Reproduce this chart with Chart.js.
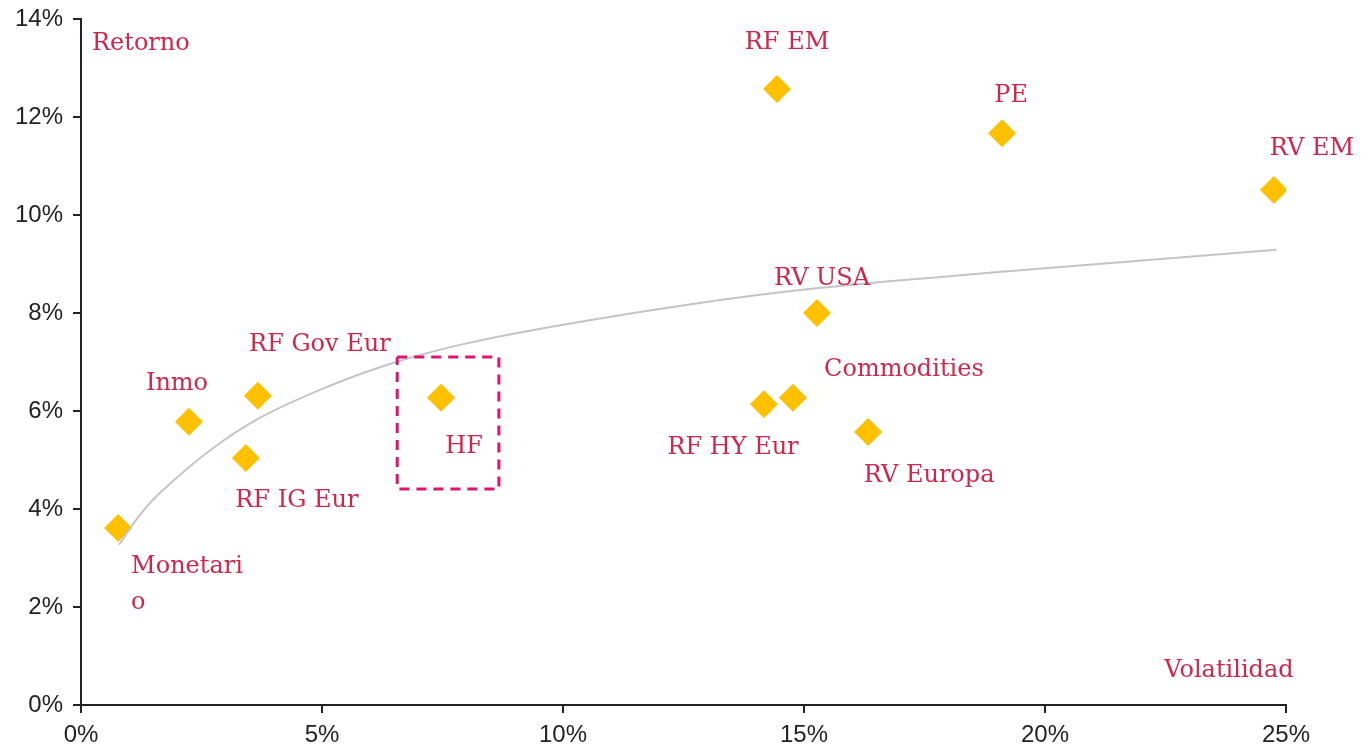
<!DOCTYPE html>
<html lang="es">
<head>
    <meta charset="UTF-8">
    <title>Retorno vs Volatilidad</title>
    <script src="https://cdn.jsdelivr.net/npm/chart.js"></script>
    <style>
        html, body {
            margin: 0;
            padding: 0;
            background: #ffffff;
        }
        .chart-box {
            width: 1363px;
            height: 755px;
        }
    </style>
</head>
<body>
<div class="chart-box">
    <canvas id="riskChart"></canvas>
</div>

<script>
    // Activos: volatilidad (%) y retorno (%)
    const activos = ['Monetario', 'Inmo', 'RF IG Eur', 'RF Gov Eur', 'HF', 'RF HY Eur',
        'Commodities', 'RV USA', 'RV Europa', 'RF EM', 'PE', 'RV EM'];
    const volatilidad = [0.77, 2.24, 3.42, 3.67, 7.47, 14.17, 14.77, 15.27, 16.33, 14.44, 19.11, 24.75];
    const retorno = [3.61, 5.78, 5.04, 6.31, 6.27, 6.14, 6.27, 8.00, 5.57, 12.57, 11.67, 10.51];

    // Frontera
    const fronteraX = [0.79, 1.2, 1.64, 2.68, 3.71, 5.10, 6.47, 8.0, 10.0, 12.8, 15.3, 19.1, 24.8];
    const fronteraY = [3.27, 3.85, 4.33, 5.20, 5.86, 6.49, 6.98, 7.38, 7.76, 8.20, 8.51, 8.84, 9.29];

    // Recuadro HF
    const cajaX = [6.56, 8.67, 8.67, 6.56, 6.56];
    const cajaY = [7.10, 7.10, 4.41, 4.41, 7.10];

    const xTicks = [0, 5, 10, 15, 20, 25];
    const yTicks = [0, 2, 4, 6, 8, 10, 12, 14];

    // posicion de cada etiqueta respecto a su punto (px)
    const offsets = {
        'Monetario': [13, 39, 'left'],
        'Inmo': [-12, -38, 'center'],
        'RF IG Eur': [51, 43, 'center'],
        'RF Gov Eur': [62, -51, 'center'],
        'HF': [23, 49, 'center'],
        'RF HY Eur': [-31, 44, 'center'],
        'Commodities': [111, -28, 'center'],
        'RV USA': [5, -34, 'center'],
        'RV Europa': [61, 44, 'center'],
        'RF EM': [10, -46, 'center'],
        'PE': [9, -37, 'center'],
        'RV EM': [38, -41, 'center']
    };

    const rojo = '#d0264c';
    const serif = '"DejaVu Serif", serif';

    const etiquetas = {
        id: 'etiquetas',
        afterDatasetsDraw(chart) {
            const ctx = chart.ctx;
            const xs = chart.scales.x, ys = chart.scales.y;
            const area = chart.chartArea;
            ctx.save();
            ctx.fillStyle = rojo;
            ctx.font = '24px ' + serif;
            ctx.textBaseline = 'middle';
            activos.forEach((nombre, i) => {
                const px = xs.getPixelForValue(volatilidad[i]);
                const py = ys.getPixelForValue(retorno[i]);
                const o = offsets[nombre];
                ctx.textAlign = o[2];
                if (nombre === 'Monetario') {
                    ctx.fillText('Monetari', px + o[0], py + o[1]);
                    ctx.fillText('o', px + o[0], py + o[1] + 36);
                } else {
                    ctx.fillText(nombre, px + o[0], py + o[1]);
                }
            });
            ctx.textAlign = 'left';
            ctx.fillText('Retorno', area.left + 11, area.top + 25);
            ctx.textAlign = 'center';
            ctx.fillText('Volatilidad', area.right - 57, area.bottom - 34);
            ctx.restore();
        }
    };

    const ctx = document.getElementById('riskChart').getContext('2d');
    new Chart(ctx, {
        type: 'scatter',
        data: {
            datasets: [
                {
                    label: 'Activos',
                    data: volatilidad.map((v, i) => ({x: v, y: retorno[i]})),
                    pointStyle: 'rectRot',
                    pointRadius: 14,
                    pointHoverRadius: 14,
                    backgroundColor: '#ffc000',
                    borderWidth: 0,
                    order: 2
                },
                {
                    label: 'Frontera',
                    type: 'line',
                    data: fronteraX.map((v, i) => ({x: v, y: fronteraY[i]})),
                    borderColor: '#c4c4c4',
                    borderWidth: 2,
                    pointRadius: 0,
                    tension: 0.4,
                    fill: false,
                    order: 1
                },
                {
                    label: 'HF',
                    type: 'line',
                    data: cajaX.map((v, i) => ({x: v, y: cajaY[i]})),
                    borderColor: '#e0146f',
                    borderWidth: 3,
                    borderDash: [10, 7],
                    pointRadius: 0,
                    tension: 0,
                    fill: false,
                    order: 0
                }
            ]
        },
        options: {
            responsive: true,
            maintainAspectRatio: false,
            animation: false,
            layout: {
                padding: {top: 19, right: 77, left: 0, bottom: 0}
            },
            plugins: {
                legend: {display: false},
                tooltip: {enabled: false}
            },
            scales: {
                x: {
                    type: 'linear',
                    min: 0,
                    max: 25,
                    afterFit: s => { s.height = 50; s.paddingLeft = 0; s.paddingRight = 0; },
                    afterBuildTicks: s => { s.ticks = xTicks.map(v => ({value: v})); },
                    grid: {display: true, drawOnChartArea: false, drawTicks: true, tickLength: 8, color: '#222', lineWidth: 2},
                    border: {display: true, color: '#222', width: 2},
                    ticks: {
                        padding: 8,
                        color: '#222',
                        font: {family: '"Liberation Sans", Arial, sans-serif', size: 24},
                        callback: v => v + '%'
                    }
                },
                y: {
                    type: 'linear',
                    min: 0,
                    max: 14,
                    afterFit: s => { s.width = 81; s.paddingTop = 0; s.paddingBottom = 0; },
                    afterBuildTicks: s => { s.ticks = yTicks.map(v => ({value: v})); },
                    grid: {display: true, drawOnChartArea: false, drawTicks: true, tickLength: 8, color: '#222', lineWidth: 2},
                    border: {display: true, color: '#222', width: 2},
                    ticks: {
                        padding: 10,
                        color: '#222',
                        font: {family: '"Liberation Sans", Arial, sans-serif', size: 24},
                        callback: v => v + '%'
                    }
                }
            }
        },
        plugins: [etiquetas]
    });
</script>
</body>
</html>
